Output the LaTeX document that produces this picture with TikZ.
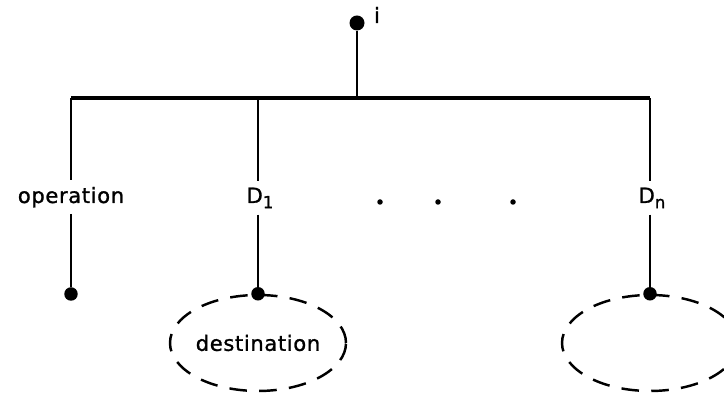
\documentclass[tikz,border=0pt]{standalone}
\usepackage{fontspec}
\newfontfamily\treefont[LetterSpace=3,FakeBold=1.2]{DejaVu Sans}
\newcommand{\subtxt}[1]{\raisebox{-0.45ex}{\fontsize{9.5}{10}\selectfont #1}}
\usetikzlibrary{shapes.geometric}

\begin{document}
\begin{tikzpicture}[x=0.02cm,y=-0.02cm,
    dot/.style={circle,fill,inner sep=0pt,minimum size=0.27cm},
    lbl/.style={anchor=base,inner sep=3.5pt,font=\treefont\fontsize{12}{14}\selectfont},
    ring/.style={ellipse,draw,line width=1.4pt,dash pattern=on 10pt off 7pt,
      minimum width=3.52cm,minimum height=1.92cm,inner sep=0pt,
      font=\treefont\fontsize{12}{14}\selectfont}]
  \clip (0,0) rectangle (724,394);
  % root and bar
  \node[dot,minimum size=0.3cm] (root) at (357,23) {};
  \node[anchor=base,inner sep=0pt,font=\treefont\fontsize{12}{14}\selectfont] (rootlbl) at (377,23) {i};
  \coordinate (barop) at (71,98);
  \coordinate (bar1) at (258,98);
  \coordinate (barn) at (650,98);
  \draw[line width=1.5pt] (root) -- (root |- barop);
  \draw[line width=2pt] (barop) -- (barn);
  % branch labels
  \node[lbl] (op) at (71,203) {operation};
  \node[lbl] (d1) at (260,203) {D\subtxt{1}};
  \node[lbl] (dn) at (652,203) {D\subtxt{n}};
  % dots between
  \foreach \x [count=\k] in {380,438,513}
    \node[circle,fill,inner sep=0pt,minimum size=0.11cm] (gap\k) at (\x,202) {};
  % leaves
  \node[dot] (leafop) at (71,294) {};
  \node[ring] (dest1) at (258,343) {destination};
  \node[ring] (destn) at (650,343) {};
  \node[dot] (leaf1) at (dest1.north) {};
  \node[dot] (leafn) at (destn.north) {};
  \draw[line width=1.5pt] (barop) -- (op) (op) -- (leafop);
  \draw[line width=1.5pt] (bar1) -- (bar1 |- d1.north) (bar1 |- d1.south) -- (leaf1);
  \draw[line width=1.5pt] (barn) -- (barn |- dn.north) (barn |- dn.south) -- (leafn);
\end{tikzpicture}
\end{document}
